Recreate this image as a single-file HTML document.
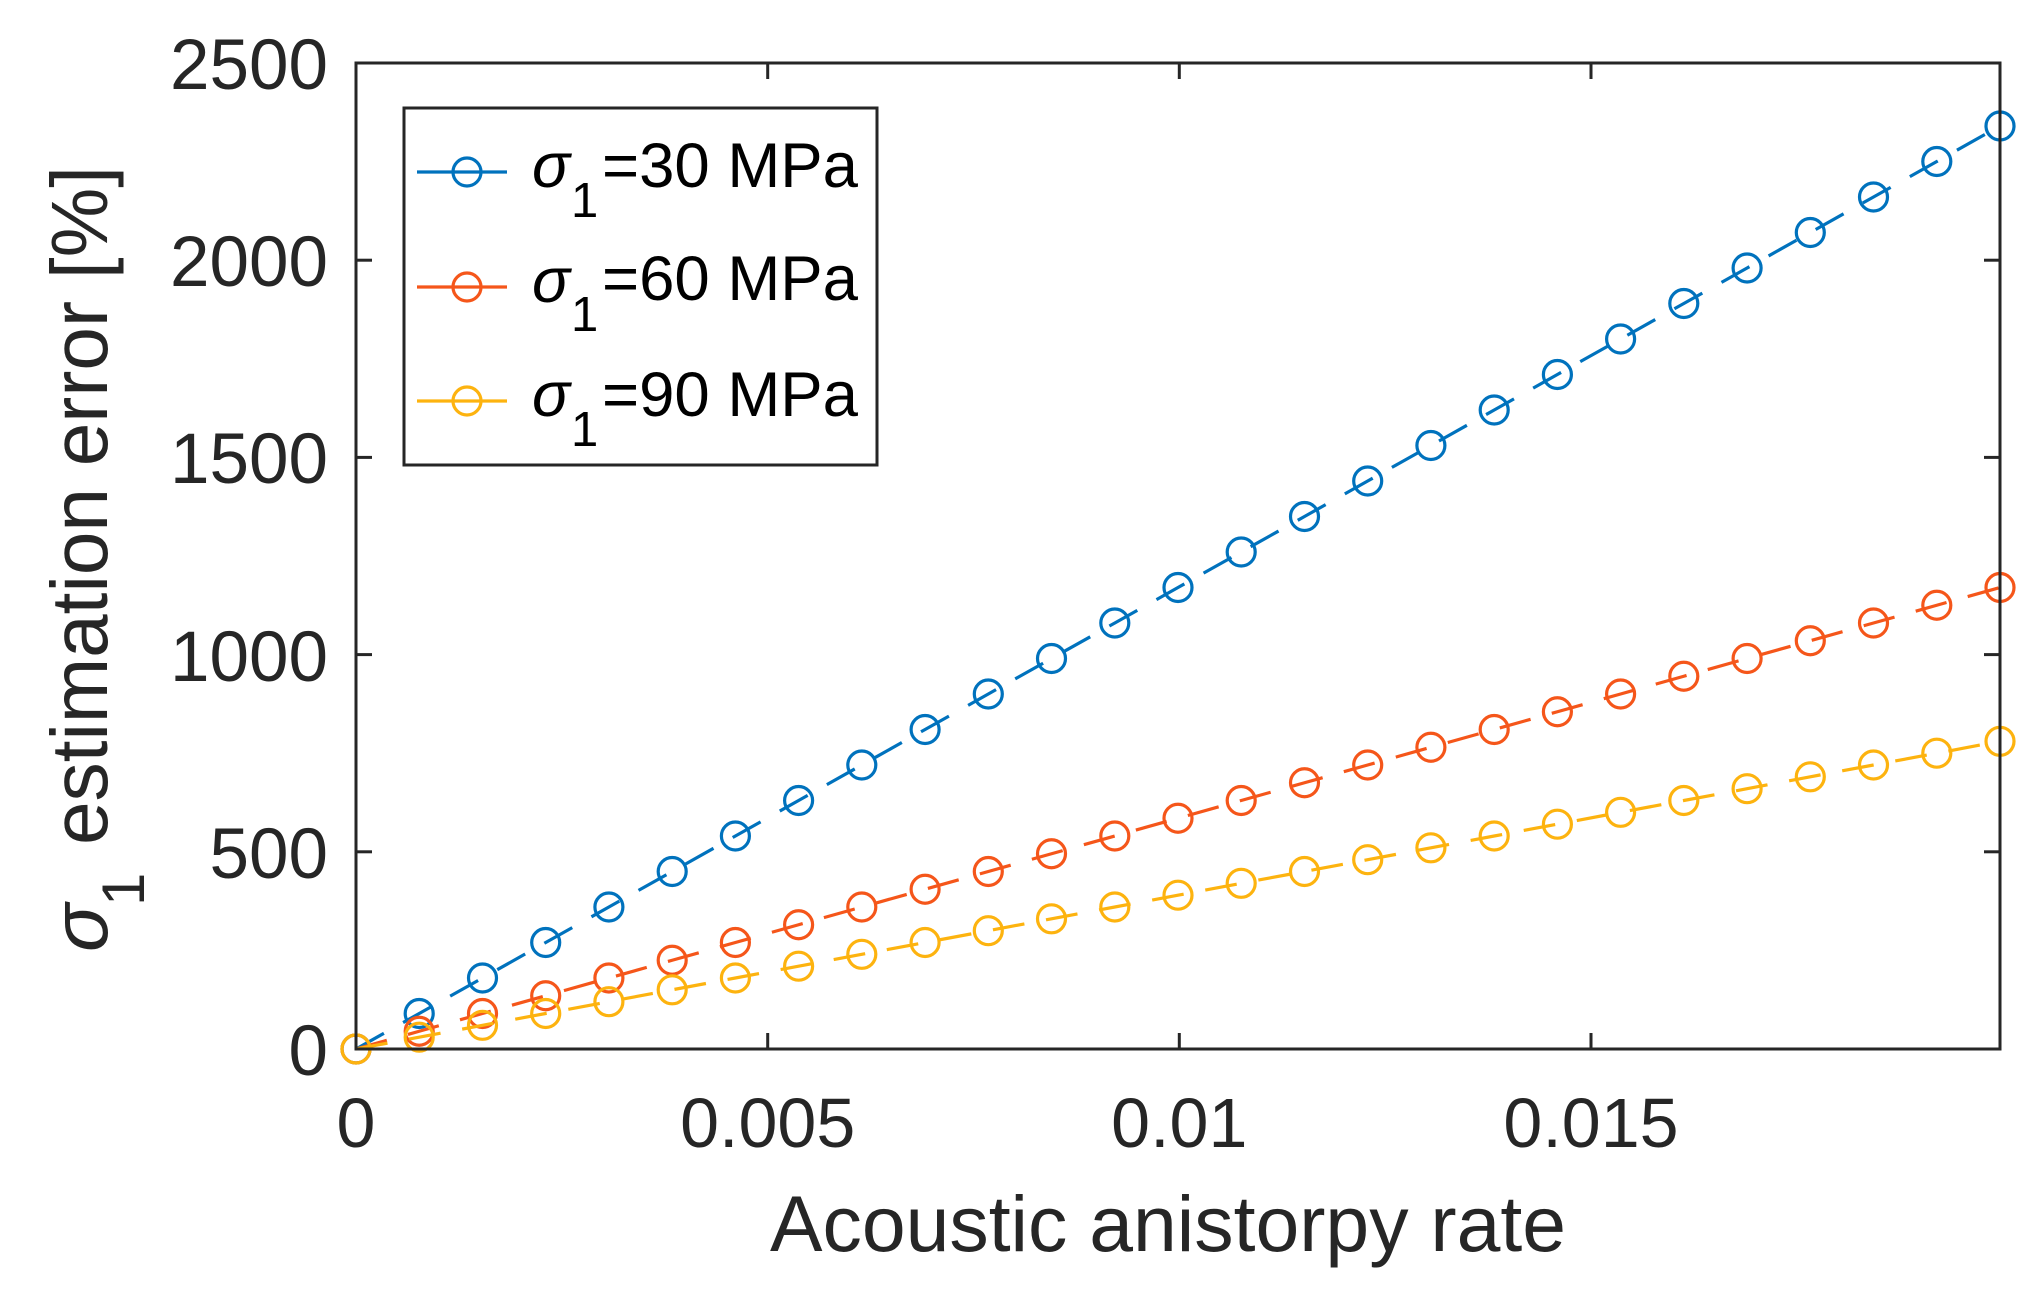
<!DOCTYPE html>
<html><head><meta charset="utf-8"><style>
html,body{margin:0;padding:0;background:#fff;}
svg{display:block;font-family:"Liberation Sans",Arial,sans-serif;}
</style></head><body>
<svg width="2036" height="1293" viewBox="0 0 2036 1293" xmlns="http://www.w3.org/2000/svg">
<defs>
<marker id="mb" markerUnits="userSpaceOnUse" markerWidth="40" markerHeight="40" refX="20" refY="20" viewBox="0 0 40 40"><circle cx="20" cy="20" r="14" fill="none" stroke="#0072BD" stroke-width="3.2"/></marker>
<marker id="mo" markerUnits="userSpaceOnUse" markerWidth="40" markerHeight="40" refX="20" refY="20" viewBox="0 0 40 40"><circle cx="20" cy="20" r="14" fill="none" stroke="#F5561A" stroke-width="3.2"/></marker>
<marker id="my" markerUnits="userSpaceOnUse" markerWidth="40" markerHeight="40" refX="20" refY="20" viewBox="0 0 40 40"><circle cx="20" cy="20" r="14" fill="none" stroke="#FDB30F" stroke-width="3.2"/></marker>
</defs>
<rect width="2036" height="1293" fill="#fff"/>

<g fill="none" stroke-width="3.2" stroke-dasharray="32 22">
<polyline stroke="#0072BD" marker-start="url(#mb)" marker-mid="url(#mb)" marker-end="url(#mb)" points="356,1049 419.2,1013.5 482.5,978 545.7,942.5 608.9,907 672.2,871.5 735.4,836 798.6,800.5 861.8,765 925.1,729.5 988.3,694 1051.5,658.5 1114.8,623 1178,587.5 1241.2,552 1304.5,516.5 1367.7,481 1430.9,445.5 1494.2,410 1557.4,374.5 1620.6,339 1683.8,303.5 1747.1,268 1810.3,232.5 1873.5,197 1936.8,161.5 2000,126"/>
<polyline stroke="#F5561A" marker-start="url(#mo)" marker-mid="url(#mo)" marker-end="url(#mo)" points="356,1049 419.2,1031.25 482.5,1013.5 545.7,995.75 608.9,978 672.2,960.25 735.4,942.5 798.6,924.75 861.8,907 925.1,889.25 988.3,871.5 1051.5,853.75 1114.8,836 1178,818.25 1241.2,800.5 1304.5,782.75 1367.7,765 1430.9,747.25 1494.2,729.5 1557.4,711.75 1620.6,694 1683.8,676.25 1747.1,658.5 1810.3,640.75 1873.5,623 1936.8,605.25 2000,587.5"/>
<polyline stroke="#FDB30F" marker-start="url(#my)" marker-mid="url(#my)" marker-end="url(#my)" points="356,1049 419.2,1037.2 482.5,1025.3 545.7,1013.5 608.9,1001.7 672.2,989.8 735.4,978 798.6,966.2 861.8,954.3 925.1,942.5 988.3,930.7 1051.5,918.8 1114.8,907 1178,895.2 1241.2,883.3 1304.5,871.5 1367.7,859.7 1430.9,847.8 1494.2,836 1557.4,824.2 1620.6,812.3 1683.8,800.5 1747.1,788.7 1810.3,776.8 1873.5,765 1936.8,753.2 2000,741.3"/>
</g>

<rect x="356" y="63" width="1644" height="986" fill="none" stroke="#262626" stroke-width="3"/>
<g stroke="#262626" stroke-width="3">
<line x1="767.7" y1="1049" x2="767.7" y2="1033"/><line x1="1179.3" y1="1049" x2="1179.3" y2="1033"/><line x1="1591" y1="1049" x2="1591" y2="1033"/>
<line x1="767.7" y1="63" x2="767.7" y2="79"/><line x1="1179.3" y1="63" x2="1179.3" y2="79"/><line x1="1591" y1="63" x2="1591" y2="79"/>
<line x1="356" y1="851.8" x2="372" y2="851.8"/><line x1="356" y1="654.6" x2="372" y2="654.6"/><line x1="356" y1="457.4" x2="372" y2="457.4"/><line x1="356" y1="260.2" x2="372" y2="260.2"/>
<line x1="2000" y1="851.8" x2="1984" y2="851.8"/><line x1="2000" y1="654.6" x2="1984" y2="654.6"/><line x1="2000" y1="457.4" x2="1984" y2="457.4"/><line x1="2000" y1="260.2" x2="1984" y2="260.2"/>
</g>

<g fill="#262626" font-size="71" text-anchor="end">
<text x="328" y="1075">0</text>
<text x="328" y="878">500</text>
<text x="328" y="681">1000</text>
<text x="328" y="483">1500</text>
<text x="328" y="286">2000</text>
<text x="328" y="89">2500</text>
</g>
<g fill="#262626" font-size="70" text-anchor="middle">
<text x="356" y="1147">0</text>
<text x="767.7" y="1147">0.005</text>
<text x="1179.3" y="1147">0.01</text>
<text x="1591" y="1147">0.015</text>
</g>
<text x="1168" y="1251" font-size="79" fill="#262626" text-anchor="middle" textLength="796" lengthAdjust="spacingAndGlyphs">Acoustic anistorpy rate</text>

<g fill="#262626" font-size="80">
<text transform="translate(107,952) rotate(-90)" font-style="italic">σ</text>
<text transform="translate(144,906) rotate(-90)" font-size="60">1</text>
<text transform="translate(107,845) rotate(-90)" textLength="679" lengthAdjust="spacingAndGlyphs">estimation error [%]</text>
</g>

<rect x="404" y="108" width="473" height="357" fill="#fff" stroke="#262626" stroke-width="3"/>
<g stroke-width="3.2" fill="none">
<line x1="417" y1="172" x2="507" y2="172" stroke="#0072BD"/><circle cx="467" cy="172" r="14" stroke="#0072BD"/>
<line x1="417" y1="287" x2="507" y2="287" stroke="#F5561A"/><circle cx="467" cy="287" r="14" stroke="#F5561A"/>
<line x1="417" y1="401" x2="507" y2="401" stroke="#FDB30F"/><circle cx="467" cy="401" r="14" stroke="#FDB30F"/>
</g>
<g fill="#000" font-size="63">
<text x="532" y="187" font-style="italic">σ</text><text x="571" y="217" font-size="49">1</text><text x="602" y="187" textLength="256" lengthAdjust="spacingAndGlyphs">=30 MPa</text>
<text x="532" y="302" font-style="italic">σ</text><text x="571" y="331" font-size="49">1</text><text x="602" y="300" textLength="256" lengthAdjust="spacingAndGlyphs">=60 MPa</text>
<text x="532" y="416" font-style="italic">σ</text><text x="571" y="446" font-size="49">1</text><text x="602" y="416" textLength="256" lengthAdjust="spacingAndGlyphs">=90 MPa</text>
</g>
</svg>
</body></html>
